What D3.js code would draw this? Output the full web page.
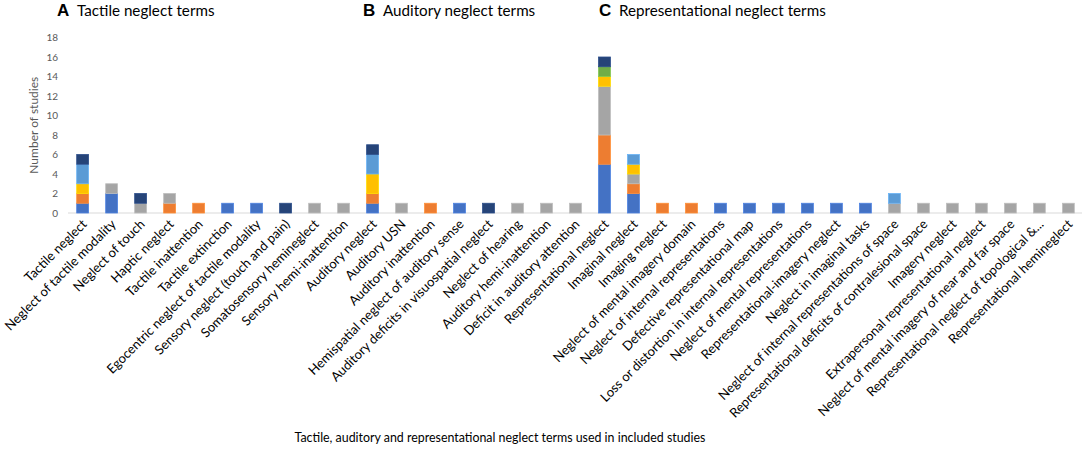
<!DOCTYPE html>
<html>
<head>
<meta charset="utf-8">
<script src="https://cdn.jsdelivr.net/npm/d3@7"></script>
<style>
  body { margin: 0; background: #fff; }
  svg { display: block; font-family: Lato, "Open Sans", sans-serif; }
</style>
</head>
<body>
<div id="chart"></div>
<script>
// neglect terms, left to right
const terms = [
  "Tactile neglect", "Neglect of tactile modality", "Neglect of touch", "Haptic neglect",
  "Tactile inattention", "Tactile extinction", "Egocentric neglect of tactile modality",
  "Sensory neglect (touch and pain)", "Somatosensory hemineglect", "Sensory hemi-inattention",
  "Auditory neglect", "Auditory USN", "Auditory inattention", "Hemispatial neglect of auditory sense",
  "Auditory deficits in visuospatial neglect", "Neglect of hearing", "Auditory hemi-inattention",
  "Deficit in auditory attention",
  "Representational neglect", "Imaginal neglect", "Imaging neglect", "Neglect of mental imagery domain",
  "Neglect of internal representations", "Defective representational map",
  "Loss or distortion in internal representations", "Neglect of mental representations",
  "Representational-imagery neglect", "Neglect in imaginal tasks",
  "Neglect of internal representations of space", "Representational deficits of contralesional space",
  "Imagery neglect", "Extrapersonal representational neglect",
  "Neglect of mental imagery of near and far space", "Representational neglect of topological &...",
  "Representational hemineglect"
];

// stacked series (bottom to top), one value per term
const series1 = [1,2,0,0,0,1,1,0,0,0, 1,0,0,1,0,0,0,0, 5,2,0,0,1,1,1,1,1,1,0,0,0,0,0,0,0];
const series2 = [1,0,0,1,1,0,0,0,0,0, 1,0,1,0,0,0,0,0, 3,1,1,1,0,0,0,0,0,0,0,0,0,0,0,0,0];
const series3 = [0,1,1,1,0,0,0,0,1,1, 0,1,0,0,0,1,1,1, 5,1,0,0,0,0,0,0,0,0,1,1,1,1,1,1,1];
const series4 = [1,0,0,0,0,0,0,0,0,0, 2,0,0,0,0,0,0,0, 1,1,0,0,0,0,0,0,0,0,0,0,0,0,0,0,0];
const series5 = [2,0,0,0,0,0,0,0,0,0, 2,0,0,0,0,0,0,0, 0,1,0,0,0,0,0,0,0,0,1,0,0,0,0,0,0];
const series6 = [0,0,0,0,0,0,0,0,0,0, 0,0,0,0,0,0,0,0, 1,0,0,0,0,0,0,0,0,0,0,0,0,0,0,0,0];
const series7 = [1,0,1,0,0,0,0,1,0,0, 1,0,0,0,1,0,0,0, 1,0,0,0,0,0,0,0,0,0,0,0,0,0,0,0,0];

const yTicks = [0, 2, 4, 6, 8, 10, 12, 14, 16, 18];

const panels = [
  {letter: "A", title: "Tactile neglect terms", x: 57},
  {letter: "B", title: "Auditory neglect terms", x: 363},
  {letter: "C", title: "Representational neglect terms", x: 599}
];

const colors = ["#4472C4", "#ED7D31", "#A5A5A5", "#FFC000", "#5B9BD5", "#70AD47", "#264478"];

const width = 1084;
const height = 449;

const allSeries = [series1, series2, series3, series4, series5, series6, series7];
const keys = allSeries.map((d, i) => "s" + i);
const table = terms.map((t, j) => {
  const row = {term: t};
  allSeries.forEach((s, i) => row[keys[i]] = s[j]);
  return row;
});

const layers = d3.stack().keys(keys)(table);

const x = d3.scaleBand()
  .domain(terms)
  .range([68, 1083])
  .paddingInner(0.59)
  .paddingOuter(0.3);

const y = d3.scaleLinear([0, 18], [213, 37.5]);

const svg = d3.select("#chart").append("svg")
  .attr("width", width)
  .attr("height", height)
  .attr("viewBox", [0, 0, width, height]);

// x axis baseline
svg.append("line")
  .attr("x1", 68).attr("x2", 1082)
  .attr("y1", y(0)).attr("y2", y(0))
  .attr("stroke", "#d9d9d9");

// y tick labels
svg.append("g")
  .selectAll("text")
  .data(yTicks)
  .join("text")
  .attr("x", 58)
  .attr("y", d => y(d))
  .attr("dy", "0.35em")
  .attr("text-anchor", "end")
  .attr("font-size", 10)
  .attr("fill", "#595959")
  .text(d => d);

svg.append("text")
  .attr("transform", `translate(38,${y(9)}) rotate(-90)`)
  .attr("text-anchor", "middle")
  .attr("font-size", 12)
  .attr("fill", "#595959")
  .text("Number of studies");

// bars
svg.append("g")
  .selectAll("g")
  .data(layers)
  .join("g")
  .attr("fill", (d, i) => colors[i])
  .attr("stroke", (d, i) => d3.color(colors[i]).brighter(0.4))
  .attr("stroke-width", 0.8)
  .selectAll("rect")
  .data(d => d.filter(p => p[1] > p[0]))
  .join("rect")
  .attr("x", d => x(d.data.term))
  .attr("y", d => y(d[1]))
  .attr("width", x.bandwidth())
  .attr("height", d => y(d[0]) - y(d[1]));

// rotated category labels
svg.append("g")
  .selectAll("text")
  .data(terms)
  .join("text")
  .attr("transform", d => `translate(${x(d) + x.bandwidth() / 2 + 5},${y(0) + 12}) rotate(-45)`)
  .attr("text-anchor", "end")
  .attr("font-size", 13)
  .attr("fill", "#000")
  .text(d => d);

// panel titles
const heads = svg.append("g")
  .selectAll("g")
  .data(panels)
  .join("g")
  .attr("transform", d => `translate(${d.x},16)`);

heads.append("text")
  .attr("font-family", "Liberation Sans, Arial, sans-serif")
  .attr("font-weight", "bold")
  .attr("font-size", 17)
  .text(d => d.letter);

heads.append("text")
  .attr("x", 20)
  .attr("font-size", 15.2)
  .text(d => d.title);

svg.append("text")
  .attr("x", 500)
  .attr("y", 442)
  .attr("text-anchor", "middle")
  .attr("font-size", 12.4)
  .text("Tactile, auditory and representational neglect terms used in included studies");
</script>
</body>
</html>
